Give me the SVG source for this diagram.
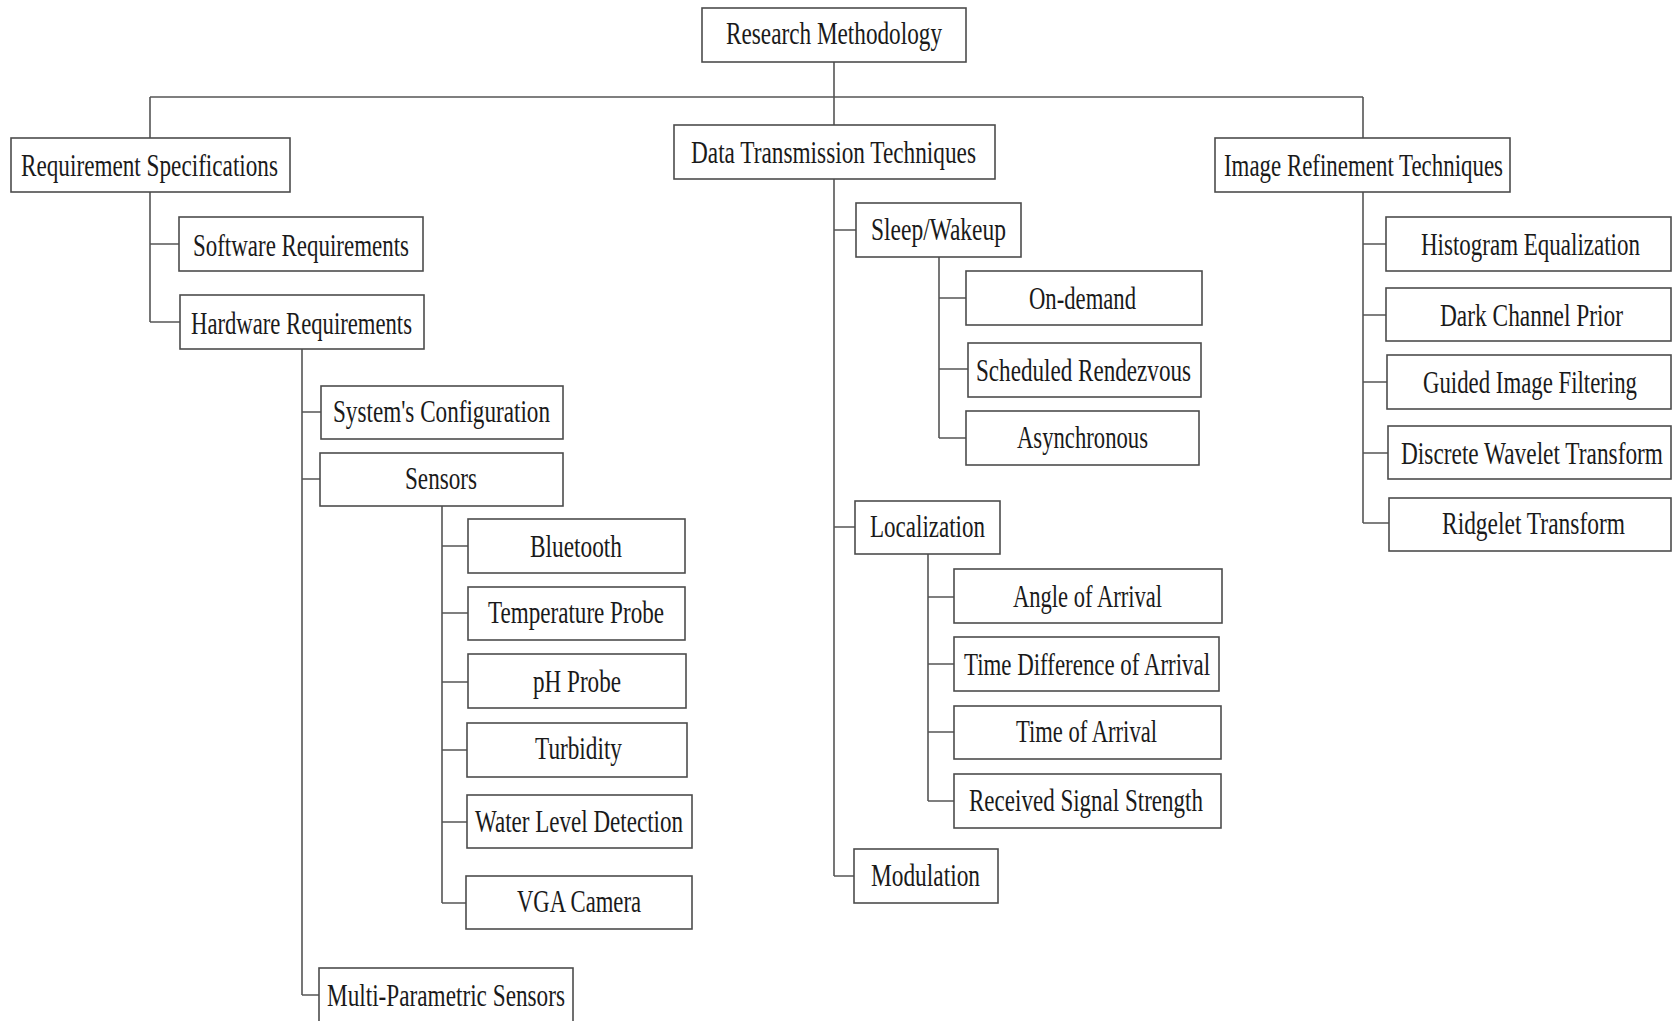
<svg xmlns="http://www.w3.org/2000/svg" width="1674" height="1021" viewBox="0 0 1674 1021">
  <style>
    .box { fill: #ffffff; stroke: #4d4d4d; stroke-width: 1.6; }
    .lbl { font-family: "Liberation Serif", "Times New Roman", serif; font-size: 31px; fill: #1a1a1a; }
    .wire { fill: none; stroke: #555555; stroke-width: 1.6; }
  </style>
  <rect x="0" y="0" width="1674" height="1021" fill="#ffffff"/>

  <!-- tree connectors -->
  <g id="connectors" class="wire">
    <path d="M834,62 V125 M150,97 H1363 M150,97 V138 M1363,97 V138"/>
    <path d="M150,192 V322 M150,244 H179 M150,322 H180"/>
    <path d="M302,349 V995 M302,412 H321 M302,479 H320 M302,995 H319"/>
    <path d="M442,506 V903 M442,546 H468 M442,613 H468 M442,682 H468 M442,750 H467 M442,822 H467 M442,903 H466"/>
    <path d="M834,179 V876 M834,230 H856 M834,527 H855 M834,876 H854"/>
    <path d="M939,257 V438 M939,298 H966 M939,369 H968 M939,438 H966"/>
    <path d="M928,554 V801 M928,597 H954 M928,664 H954 M928,732 H954 M928,801 H954"/>
    <path d="M1363,192 V523 M1363,244 H1386 M1363,315 H1386 M1363,382 H1387 M1363,453 H1388 M1363,523 H1389"/>
  </g>

  <!-- root -->
  <g id="research-methodology"><rect class="box" x="702" y="8" width="264" height="54"/><text class="lbl" x="726" y="44" textLength="216" lengthAdjust="spacingAndGlyphs">Research Methodology</text></g>

  <!-- requirement branch -->
  <g id="requirement-specifications"><rect class="box" x="11" y="138" width="279" height="54"/><text class="lbl" x="21" y="176" textLength="257" lengthAdjust="spacingAndGlyphs">Requirement Specifications</text></g>
  <g id="software-requirements"><rect class="box" x="179" y="217" width="244" height="54"/><text class="lbl" x="193" y="256" textLength="216" lengthAdjust="spacingAndGlyphs">Software Requirements</text></g>
  <g id="hardware-requirements"><rect class="box" x="180" y="295" width="244" height="54"/><text class="lbl" x="191" y="334" textLength="221" lengthAdjust="spacingAndGlyphs">Hardware Requirements</text></g>
  <g id="systems-configuration"><rect class="box" x="321" y="386" width="242" height="53"/><text class="lbl" x="333" y="422" textLength="217" lengthAdjust="spacingAndGlyphs">System's Configuration</text></g>
  <g id="sensors"><rect class="box" x="320" y="453" width="243" height="53"/><text class="lbl" x="405" y="489" textLength="72" lengthAdjust="spacingAndGlyphs">Sensors</text></g>
  <g id="bluetooth"><rect class="box" x="468" y="519" width="217" height="54"/><text class="lbl" x="530" y="557" textLength="92" lengthAdjust="spacingAndGlyphs">Bluetooth</text></g>
  <g id="temperature-probe"><rect class="box" x="468" y="587" width="217" height="53"/><text class="lbl" x="488" y="623" textLength="176" lengthAdjust="spacingAndGlyphs">Temperature Probe</text></g>
  <g id="ph-probe"><rect class="box" x="468" y="654" width="218" height="54"/><text class="lbl" x="533" y="692" textLength="88" lengthAdjust="spacingAndGlyphs">pH Probe</text></g>
  <g id="turbidity"><rect class="box" x="467" y="723" width="220" height="54"/><text class="lbl" x="535" y="759" textLength="87" lengthAdjust="spacingAndGlyphs">Turbidity</text></g>
  <g id="water-level-detection"><rect class="box" x="467" y="795" width="225" height="53"/><text class="lbl" x="475" y="832" textLength="208" lengthAdjust="spacingAndGlyphs">Water Level Detection</text></g>
  <g id="vga-camera"><rect class="box" x="466" y="876" width="226" height="53"/><text class="lbl" x="517" y="912" textLength="124" lengthAdjust="spacingAndGlyphs">VGA Camera</text></g>
  <g id="multi-parametric-sensors"><rect class="box" x="319" y="968" width="254" height="55"/><text class="lbl" x="327" y="1006" textLength="238" lengthAdjust="spacingAndGlyphs">Multi-Parametric Sensors</text></g>

  <!-- data transmission branch -->
  <g id="data-transmission-techniques"><rect class="box" x="674" y="125" width="321" height="54"/><text class="lbl" x="691" y="163" textLength="285" lengthAdjust="spacingAndGlyphs">Data Transmission Techniques</text></g>
  <g id="sleep-wakeup"><rect class="box" x="856" y="203" width="165" height="54"/><text class="lbl" x="871" y="240" textLength="135" lengthAdjust="spacingAndGlyphs">Sleep/Wakeup</text></g>
  <g id="on-demand"><rect class="box" x="966" y="271" width="236" height="54"/><text class="lbl" x="1029" y="309" textLength="107" lengthAdjust="spacingAndGlyphs">On-demand</text></g>
  <g id="scheduled-rendezvous"><rect class="box" x="968" y="343" width="233" height="54"/><text class="lbl" x="976" y="381" textLength="215" lengthAdjust="spacingAndGlyphs">Scheduled Rendezvous</text></g>
  <g id="asynchronous"><rect class="box" x="966" y="411" width="233" height="54"/><text class="lbl" x="1017" y="448" textLength="131" lengthAdjust="spacingAndGlyphs">Asynchronous</text></g>
  <g id="localization"><rect class="box" x="855" y="501" width="145" height="53"/><text class="lbl" x="870" y="537" textLength="115" lengthAdjust="spacingAndGlyphs">Localization</text></g>
  <g id="angle-of-arrival"><rect class="box" x="954" y="569" width="268" height="54"/><text class="lbl" x="1013" y="607" textLength="149" lengthAdjust="spacingAndGlyphs">Angle of Arrival</text></g>
  <g id="time-difference-of-arrival"><rect class="box" x="954" y="637" width="265" height="54"/><text class="lbl" x="964" y="675" textLength="246" lengthAdjust="spacingAndGlyphs">Time Difference of Arrival</text></g>
  <g id="time-of-arrival"><rect class="box" x="954" y="706" width="267" height="53"/><text class="lbl" x="1016" y="742" textLength="141" lengthAdjust="spacingAndGlyphs">Time of Arrival</text></g>
  <g id="received-signal-strength"><rect class="box" x="954" y="774" width="267" height="54"/><text class="lbl" x="969" y="811" textLength="234" lengthAdjust="spacingAndGlyphs">Received Signal Strength</text></g>
  <g id="modulation"><rect class="box" x="854" y="849" width="144" height="54"/><text class="lbl" x="871" y="886" textLength="109" lengthAdjust="spacingAndGlyphs">Modulation</text></g>

  <!-- image refinement branch -->
  <g id="image-refinement-techniques"><rect class="box" x="1215" y="138" width="295" height="54"/><text class="lbl" x="1224" y="176" textLength="279" lengthAdjust="spacingAndGlyphs">Image Refinement Techniques</text></g>
  <g id="histogram-equalization"><rect class="box" x="1386" y="217" width="285" height="54"/><text class="lbl" x="1421" y="255" textLength="219" lengthAdjust="spacingAndGlyphs">Histogram Equalization</text></g>
  <g id="dark-channel-prior"><rect class="box" x="1386" y="288" width="285" height="53"/><text class="lbl" x="1440" y="326" textLength="183" lengthAdjust="spacingAndGlyphs">Dark Channel Prior</text></g>
  <g id="guided-image-filtering"><rect class="box" x="1387" y="355" width="284" height="54"/><text class="lbl" x="1423" y="393" textLength="214" lengthAdjust="spacingAndGlyphs">Guided Image Filtering</text></g>
  <g id="discrete-wavelet-transform"><rect class="box" x="1388" y="426" width="283" height="53"/><text class="lbl" x="1401" y="464" textLength="262" lengthAdjust="spacingAndGlyphs">Discrete Wavelet Transform</text></g>
  <g id="ridgelet-transform"><rect class="box" x="1389" y="498" width="282" height="53"/><text class="lbl" x="1442" y="534" textLength="183" lengthAdjust="spacingAndGlyphs">Ridgelet Transform</text></g>
</svg>
